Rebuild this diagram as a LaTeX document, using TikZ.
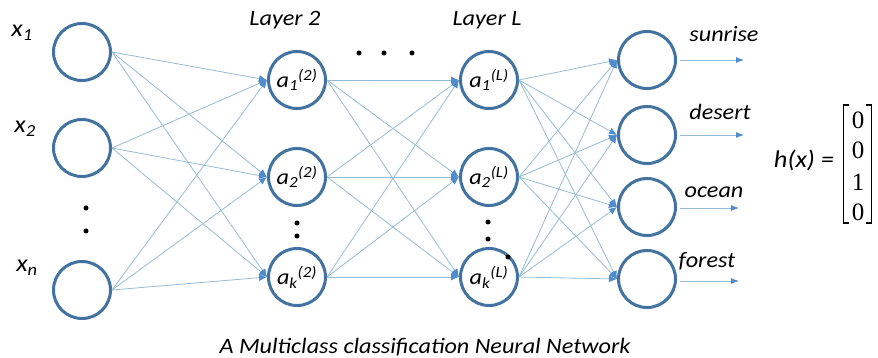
\documentclass[tikz,border=0pt]{standalone}
\usepackage{fontspec}
\setmainfont{Carlito}
\newfontfamily\cf[FakeStretch=1.1]{Carlito}
\newfontfamily\digitfont{Liberation Serif}
\usetikzlibrary{arrows.meta}
\definecolor{nodeblue}{RGB}{66,114,160}
\definecolor{edgeblue}{RGB}{150,188,212}
\definecolor{arrowblue}{RGB}{78,140,205}
\begin{document}
\begin{tikzpicture}[x=1pt,y=-1pt,
  neuron/.style={circle,draw=nodeblue,fill=white,line width=3pt,minimum size=57pt,inner sep=0pt,
    font=\cf\itshape\fontsize{22}{24}\selectfont},
  edge/.style={draw=edgeblue,line width=0.8pt,-{Latex[length=8pt,width=7pt,color=arrowblue]}},
  outedge/.style={draw=edgeblue,line width=0.9pt,shorten <=3pt,-{Latex[length=8pt,width=6pt,color=arrowblue]}},
  lbl/.style={inner sep=0pt,font=\cf\itshape\fontsize{22}{24}\selectfont},
  xlbl/.style={inner sep=0pt,font=\cf\itshape\fontsize{24}{26}\selectfont},
  bigdot/.style={circle,fill=black,inner sep=0pt,minimum size=5pt},
  digit/.style={inner sep=0pt,font=\digitfont\fontsize{25}{26}\selectfont}]
\useasboundingbox (0,0) rectangle (878,358);
% input layer
\node[neuron] (i1) at (82,52) {};
\node[neuron] (i2) at (82,148) {};
\node[neuron] (i3) at (82,290) {};
% hidden layer 2
\node[neuron] (h1) at (297,80) {a\textsubscript{1}\textsuperscript{(2)}};
\node[neuron] (h2) at (297,177) {a\textsubscript{2}\textsuperscript{(2)}};
\node[neuron] (h3) at (297,277) {a\textsubscript{k}\textsuperscript{(2)}};
% hidden layer L
\node[neuron] (l1) at (489,80) {a\textsubscript{1}\textsuperscript{(L)}};
\node[neuron] (l2) at (489,177) {a\textsubscript{2}\textsuperscript{(L)}};
\node[neuron] (l3) at (489,277) {a\textsubscript{k}\textsuperscript{(L)}};
% output layer
\node[neuron] (o1) at (647,60) {};
\node[neuron] (o2) at (647,135) {};
\node[neuron] (o3) at (647,207) {};
\node[neuron] (o4) at (647,279) {};
% connections
\foreach \a in {i1,i2,i3}
  \foreach \b in {h1,h2,h3}
    \draw[edge] (\a.east) -- (\b.west);
\foreach \a in {h1,h2,h3}
  \foreach \b in {l1,l2,l3}
    \draw[edge] (\a.east) -- (\b.west);
\foreach \a in {l1,l2,l3}
  \foreach \b in {o1,o2,o3,o4}
    \draw[edge] (\a.east) -- (\b.west);
% output arrows
\coordinate (e1) at (744,60);
\coordinate (e2) at (744,135);
\coordinate (e3) at (739,208);
\coordinate (e4) at (739,281);
\draw[outedge] (o1.east) -- (e1);
\draw[outedge] (o2.east) -- (e2);
\draw[outedge] (o3.east |- e3) -- (e3);
\draw[outedge] (o4.east |- e4) -- (e4);
% input labels
\node[xlbl] (lx1) at (22,33) {x\textsubscript{1}};
\node[xlbl] (lx2) at (25,129) {x\textsubscript{2}};
\node[xlbl] (lxn) at (27,268) {x\textsubscript{n}};
% layer labels
\node[lbl] (lay2) at (285,20) {Layer 2};
\node[lbl] (layL) at (487,20) {Layer L};
% output labels
\node[lbl,anchor=base] (sun) at (724,42) {sunrise};
\node[lbl,anchor=base] (des) at (720,120) {desert};
\node[lbl,anchor=base] (oce) at (714,198) {ocean};
\node[lbl,anchor=base] (for) at (707,267) {forest};
% caption
\node[lbl,anchor=base] (cap) at (425,353) {A Multiclass classification Neural Network};
% h(x)
\node[lbl,anchor=base,font=\cf\itshape\fontsize{24}{26}\selectfont] (hx) at (804,168) {h(x) =};
\node[digit] (d1) at (858,120) {0};
\node[digit] (d2) at (858,150) {0};
\node[digit] (d3) at (858,182) {1};
\node[digit] (d4) at (858,212) {0};
\draw[line width=1.8pt] (849,105) -- (843.5,105) -- (843.5,223) -- (849,223);
\draw[line width=1.8pt] (866,105) -- (871.5,105) -- (871.5,223) -- (866,223);
% dots
\node[bigdot] (t1) at (359,53) {};
\node[bigdot] (t2) at (384,53) {};
\node[bigdot] (t3) at (412,53) {};
\node[bigdot] (p1) at (86,208) {};
\node[bigdot] (p2) at (86,231) {};
\node[bigdot] (q1) at (297,223) {};
\node[bigdot] (q2) at (297,236) {};
\node[bigdot] (r1) at (488,222) {};
\node[bigdot] (r2) at (488,239) {};
\node[bigdot] (r3) at (508,257) {};
\end{tikzpicture}
\end{document}
